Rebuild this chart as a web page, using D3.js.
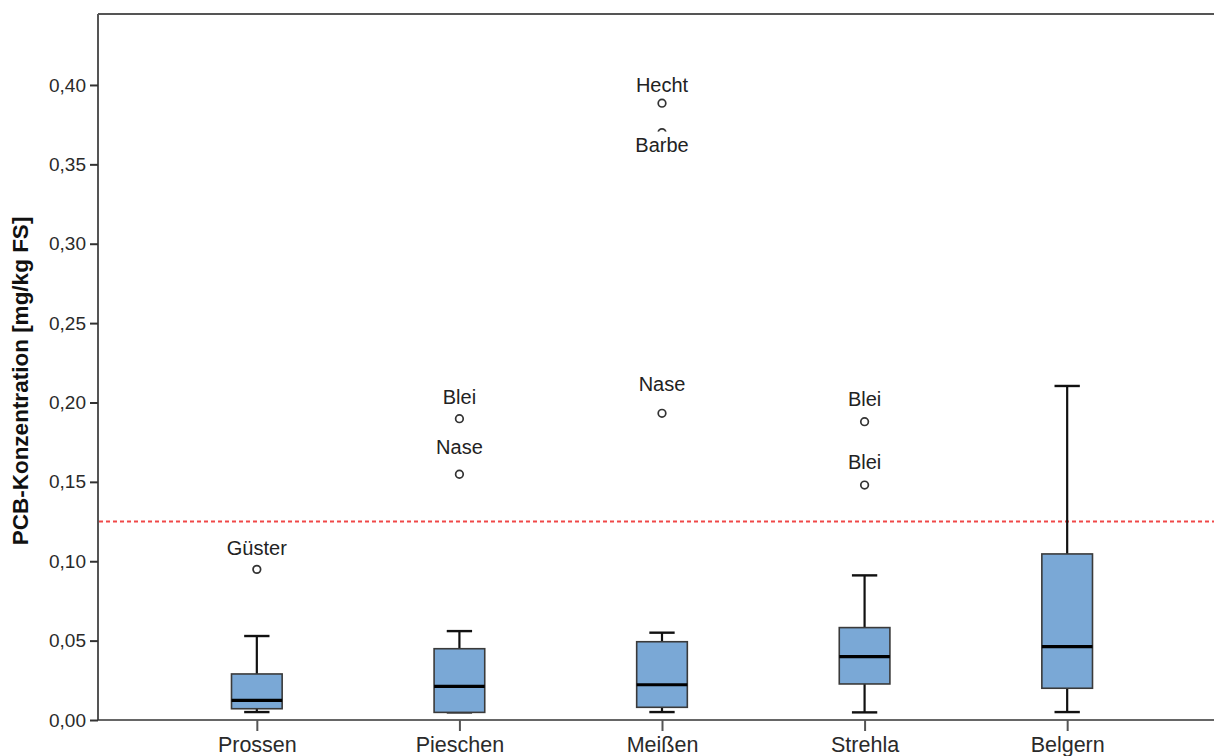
<!DOCTYPE html>
<html>
<head>
<meta charset="utf-8">
<script src="https://cdn.jsdelivr.net/npm/d3@7/dist/d3.min.js"></script>
<style>
  html, body { margin: 0; padding: 0; background: #fff; }
  svg { display: block; font-family: "Liberation Sans", Arial, sans-serif; }
</style>
</head>
<body>
<svg id="chart" width="1214" height="756"></svg>
<script>
// Sampling sites along the river
const sites = ["Prossen", "Pieschen", "Meißen", "Strehla", "Belgern"];

// Box-plot statistics per site (mg/kg FS)
const whiskerLow  = [0.0050, 0.0048, 0.0050, 0.0048, 0.0050];
const quartile1   = [0.0071, 0.0048, 0.0080, 0.0227, 0.0200];
const median      = [0.0124, 0.0212, 0.0222, 0.0399, 0.0462];
const quartile3   = [0.0290, 0.0449, 0.0493, 0.0582, 0.1046];
const whiskerHigh = [0.0529, 0.0560, 0.0550, 0.0911, 0.2104];

// Outlying fish samples
const outlierSite  = ["Prossen", "Pieschen", "Pieschen", "Meißen", "Meißen", "Meißen", "Strehla", "Strehla"];
const outlierValue = [0.0949, 0.1898, 0.1548, 0.3885, 0.3700, 0.1932, 0.1879, 0.1480];
const outlierName  = ["Güster", "Blei", "Nase", "Hecht", "Barbe", "Nase", "Blei", "Blei"];

// Maximum permitted level
const limitValue = 0.125;

// Axis ticks
const yTicks = [0, 0.05, 0.10, 0.15, 0.20, 0.25, 0.30, 0.35, 0.40];
const yMax = 0.4447;

// Layout
const plot = { left: 98, top: 14, bottom: 720, right: 1226 };
const labelDy = [-14.5, -14.7, -20, -11, 19, -22.6, -15.7, -15.7];

const svg = d3.select("#chart");
const fmt = v => d3.format(".2f")(v).replace(".", ",");

const x = d3.scalePoint().domain(sites).range([plot.left, plot.right]).padding(0.784);
const y = d3.scaleLinear().domain([0, yMax]).range([plot.bottom, plot.top]);

const boxW = x.step() * 0.25;
const capW = x.step() * 0.125;

// Frame: top border line
svg.append("line")
  .attr("x1", plot.left).attr("x2", 1214)
  .attr("y1", y(yMax)).attr("y2", y(yMax))
  .attr("stroke", "#555").attr("stroke-width", 2);

// Y axis
const yAxis = svg.append("g")
  .attr("transform", `translate(${plot.left},0)`)
  .call(d3.axisLeft(y).tickValues(yTicks).tickFormat(fmt).tickSize(8).tickPadding(4));
yAxis.select(".domain").attr("stroke", "#555").attr("stroke-width", 2)
  .attr("d", `M0,${y(yMax)}V${y(0)}`);
yAxis.selectAll(".tick line").attr("stroke", "#333").attr("stroke-width", 2);
yAxis.selectAll(".tick text")
  .attr("font-family", "Liberation Sans, Arial, sans-serif")
  .attr("font-size", 19).attr("fill", "#2a2a2a");

// X axis
const xAxis = svg.append("g")
  .attr("transform", `translate(0,${plot.bottom})`)
  .call(d3.axisBottom(x).tickSize(11).tickPadding(12));
xAxis.select(".domain").attr("stroke", "#333").attr("stroke-width", 1.5)
  .attr("d", `M${plot.left},0H1214`);
xAxis.selectAll(".tick line").attr("stroke", "#555").attr("stroke-width", 2);
xAxis.selectAll(".tick text")
  .attr("font-family", "Liberation Sans, Arial, sans-serif")
  .attr("font-size", 21.5).attr("fill", "#2a2a2a")
  .attr("dy", 0).attr("y", 32);

// Y axis title
svg.append("text")
  .attr("transform", `translate(20,${(plot.top + plot.bottom) / 2 + 14}) rotate(-90)`)
  .attr("text-anchor", "middle")
  .attr("dominant-baseline", "central")
  .attr("font-size", 22.5).attr("font-weight", "bold").attr("fill", "#111")
  .text("PCB-Konzentration [mg/kg FS]");

// Limit line
svg.append("line")
  .attr("x1", plot.left + 1).attr("x2", 1214)
  .attr("y1", y(limitValue)).attr("y2", y(limitValue))
  .attr("stroke", "#f04848").attr("stroke-width", 2)
  .attr("stroke-dasharray", "4,3");

// Boxes
const boxes = svg.append("g").selectAll("g").data(sites).join("g");
boxes.each(function (s, i) {
  const g = d3.select(this);
  const cx = x(s);
  // whiskers
  g.append("line").attr("x1", cx).attr("x2", cx)
    .attr("y1", y(quartile3[i])).attr("y2", y(whiskerHigh[i]))
    .attr("stroke", "#111").attr("stroke-width", 2.2);
  g.append("line").attr("x1", cx).attr("x2", cx)
    .attr("y1", y(quartile1[i])).attr("y2", y(whiskerLow[i]))
    .attr("stroke", "#111").attr("stroke-width", 2.2);
  g.append("line").attr("x1", cx - capW / 2).attr("x2", cx + capW / 2)
    .attr("y1", y(whiskerHigh[i])).attr("y2", y(whiskerHigh[i]))
    .attr("stroke", "#111").attr("stroke-width", 2.4);
  g.append("line").attr("x1", cx - capW / 2).attr("x2", cx + capW / 2)
    .attr("y1", y(whiskerLow[i])).attr("y2", y(whiskerLow[i]))
    .attr("stroke", "#111").attr("stroke-width", 2.4);
  // box
  g.append("rect")
    .attr("x", cx - boxW / 2).attr("width", boxW)
    .attr("y", y(quartile3[i])).attr("height", y(quartile1[i]) - y(quartile3[i]))
    .attr("fill", "#7aa8d6").attr("stroke", "#3a3a3a").attr("stroke-width", 1.6);
  // median
  g.append("line").attr("x1", cx - boxW / 2).attr("x2", cx + boxW / 2)
    .attr("y1", y(median[i])).attr("y2", y(median[i]))
    .attr("stroke", "#000").attr("stroke-width", 3.2);
});

// Outlier circles
const outliers = outlierValue.map((v, i) => ({ site: outlierSite[i], value: v, name: outlierName[i], dy: labelDy[i] }));
svg.append("g").selectAll("circle").data(outliers).join("circle")
  .attr("cx", d => x(d.site)).attr("cy", d => y(d.value)).attr("r", 3.8)
  .attr("fill", "#fff").attr("stroke", "#333").attr("stroke-width", 1.7);

// Outlier labels with white backing
const lbl = svg.append("g").selectAll("g").data(outliers).join("g")
  .attr("transform", d => `translate(${x(d.site)},${y(d.value) + d.dy})`);
lbl.append("text")
  .attr("text-anchor", "middle")
  .attr("font-size", 20).attr("fill", "#222")
  .text(d => d.name);
lbl.insert("rect", "text")
  .each(function () {
    const w = this.parentNode.querySelector("text").getComputedTextLength();
    d3.select(this).attr("x", -w / 2 - 2).attr("width", w + 4)
      .attr("y", -20).attr("height", 24).attr("fill", "#fff");
  });
</script>
</body>
</html>
